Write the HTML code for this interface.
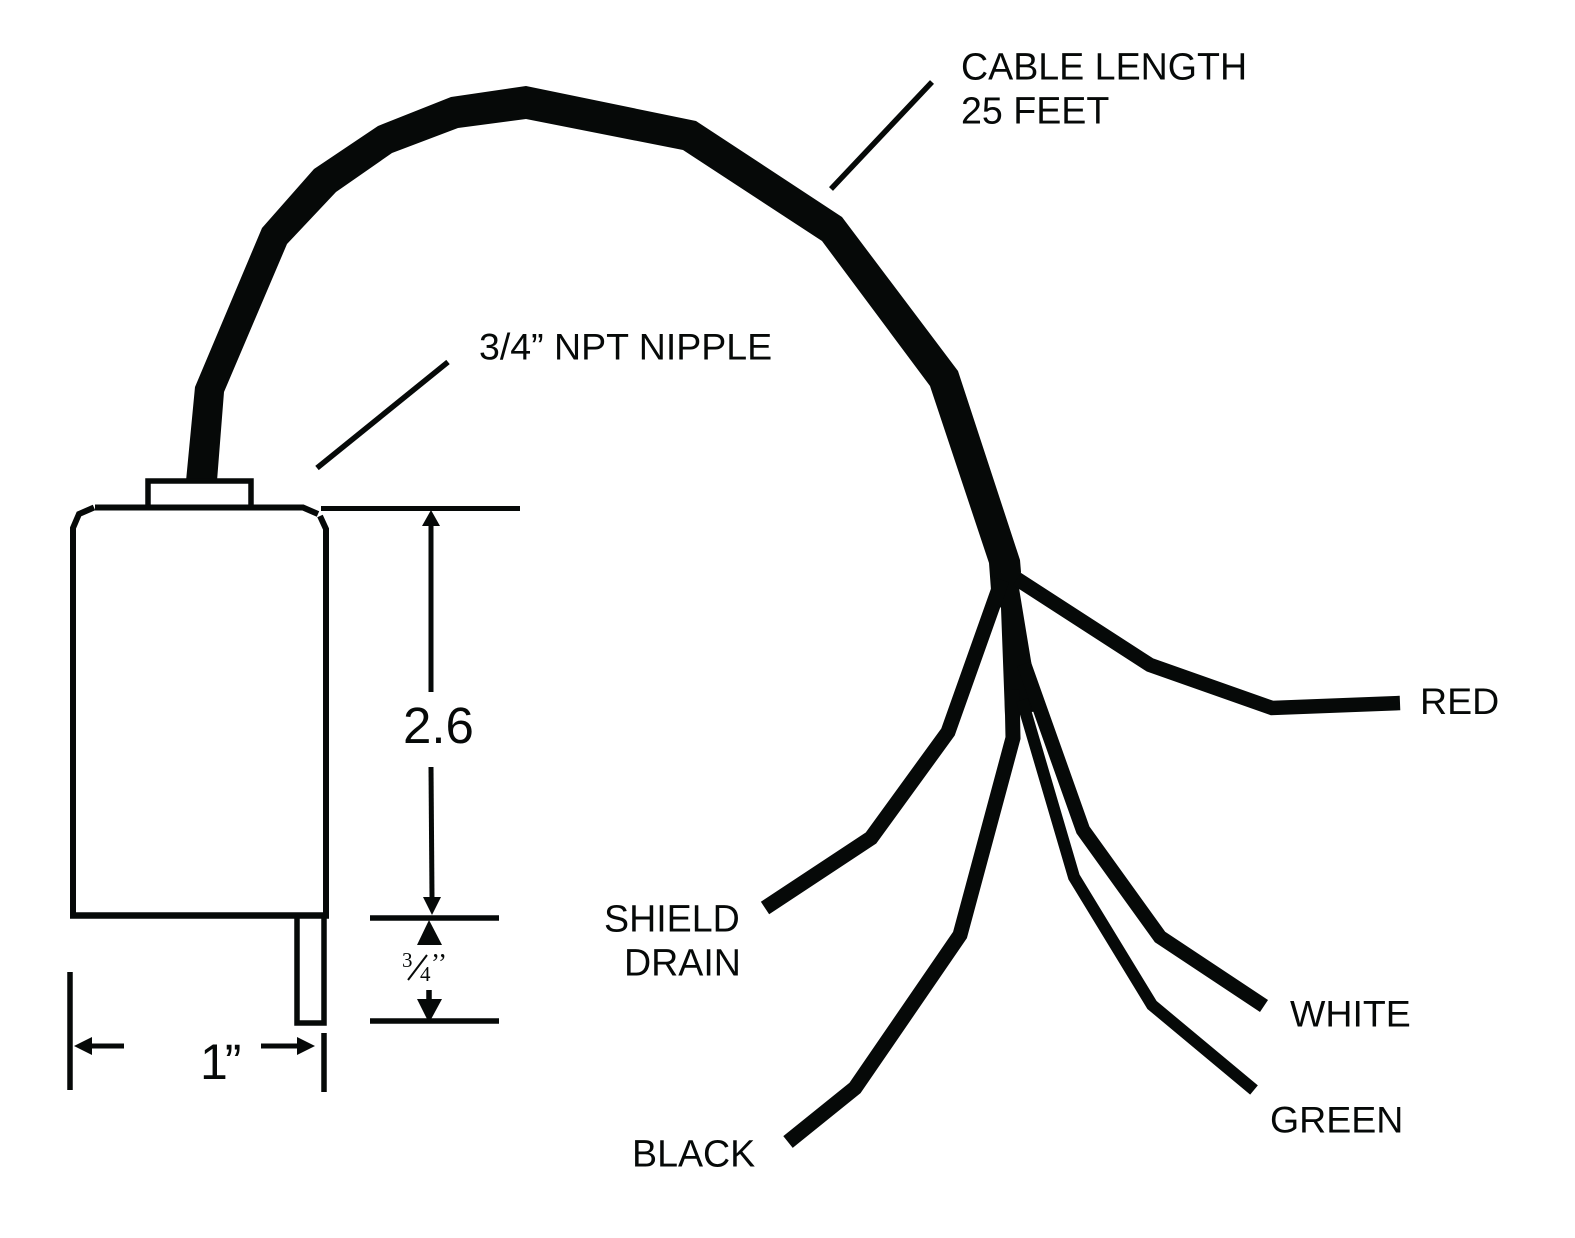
<!DOCTYPE html>
<html>
<head>
<meta charset="utf-8">
<style>
html,body{margin:0;padding:0;background:#fff;}
svg{display:block;}
text{font-family:"Liberation Sans",sans-serif;fill:#060908;}
.s{font-family:"Liberation Serif",serif;}
</style>
</head>
<body>
<svg width="1575" height="1238" viewBox="0 0 1575 1238" xmlns="http://www.w3.org/2000/svg">
<rect width="1575" height="1238" fill="#fff"/>
<!-- main cable -->
<polygon fill="#060908" points="186,481 195,387 262,228 314,169 378,126 451,97 526,86 696,121 842,217 958,371 1020,560 1021,572 1019,588 1033,673 1040,711 1005,715 1001,608 991,590 989,563 930,386 822,241 683,150 526,119 458,128 392,153 336,192 287,244 224,392 217,481"/>
<!-- wires -->
<g fill="none" stroke="#060908" stroke-linejoin="miter" stroke-linecap="butt">
<polyline stroke-width="14.5" points="1017,579 1150,665 1272,708 1400,703"/>
<polyline stroke-width="15" points="1002,580 948,732 871,838 765,908"/>
<polyline stroke-width="15" points="1012,690 1013,738 960,935 855,1088 788,1142"/>
<polyline stroke-width="12" points="1022,700 1074,877 1152,1005 1254,1090"/>
<polyline stroke-width="14.5" points="1024,664 1083,830 1160,937 1264,1006"/>
</g>
<!-- body -->
<g fill="none" stroke="#060908" stroke-width="6" stroke-linejoin="miter">
<polyline points="73,916 73,528 79,514 94,507.500"/>
<polyline points="95,507.500 303,507.500 318,514"/>
<polyline points="320,516 326,529 326,916"/>
<line x1="70" y1="915.500" x2="329" y2="915.500" stroke-width="6.500"/>
<polyline points="148,507 148,481 251,481 251,507" stroke-width="5.500"/>
<polyline points="297,916 297,1023 324,1023 324,916" stroke-width="5.500"/>
<line x1="321" y1="508.500" x2="520" y2="508.500" stroke-width="5"/>
<line x1="370" y1="918" x2="499" y2="918" stroke-width="5.500"/>
<line x1="370" y1="1021" x2="499" y2="1021" stroke-width="5.500"/>
<line x1="70" y1="972" x2="70" y2="1090" stroke-width="5.500"/>
<line x1="324" y1="1033" x2="324" y2="1092" stroke-width="5.500"/>
<line x1="431" y1="525" x2="431" y2="692" stroke-width="5"/>
<line x1="431" y1="767" x2="432" y2="898" stroke-width="5"/>
<line x1="429" y1="990" x2="429" y2="1000" stroke-width="5.500"/>
<line x1="92" y1="1046" x2="124" y2="1046" stroke-width="5"/>
<line x1="261" y1="1046" x2="298" y2="1046" stroke-width="5"/>
<line x1="317" y1="468" x2="448" y2="362" stroke-width="5.500"/>
<line x1="831" y1="189" x2="932" y2="82" stroke-width="5.500"/>
</g>
<!-- arrowheads -->
<g fill="#060908">
<polygon points="431,510 440,526 422,526"/>
<polygon points="432,915 441,897 423,897"/>
<polygon points="429,920 442,945 417,945"/>
<polygon points="429,1023 442,999 417,999"/>
<polygon points="74,1046 92,1037 92,1055"/>
<polygon points="315,1046 297,1037 297,1055"/>
</g>
<!-- labels -->
<text x="961" y="79.500" font-size="37.600">CABLE LENGTH</text>
<text x="961" y="123.500" font-size="37.600">25 FEET</text>
<text x="479" y="359.500" font-size="37.500">3/4” NPT NIPPLE</text>
<text x="403" y="743" font-size="51">2.6</text>
<text x="200" y="1079" font-size="50" letter-spacing="-3">1”</text>
<text x="604" y="931.500" font-size="37.600">SHIELD</text>
<text x="624" y="975.500" font-size="37.600">DRAIN</text>
<text x="632" y="1166.500" font-size="37.600">BLACK</text>
<text x="1420" y="714" font-size="37.500">RED</text>
<text x="1290" y="1026.500" font-size="37.500">WHITE</text>
<text x="1270" y="1132.500" font-size="37.500">GREEN</text>
<text class="s" x="402" y="967" font-size="21">3</text>
<text class="s" x="420" y="981" font-size="21">4</text>
<line x1="408" y1="980" x2="427" y2="955" stroke="#060908" stroke-width="2"/>
<text class="s" x="431" y="972" font-size="27">’’</text>
</svg>
</body>
</html>
